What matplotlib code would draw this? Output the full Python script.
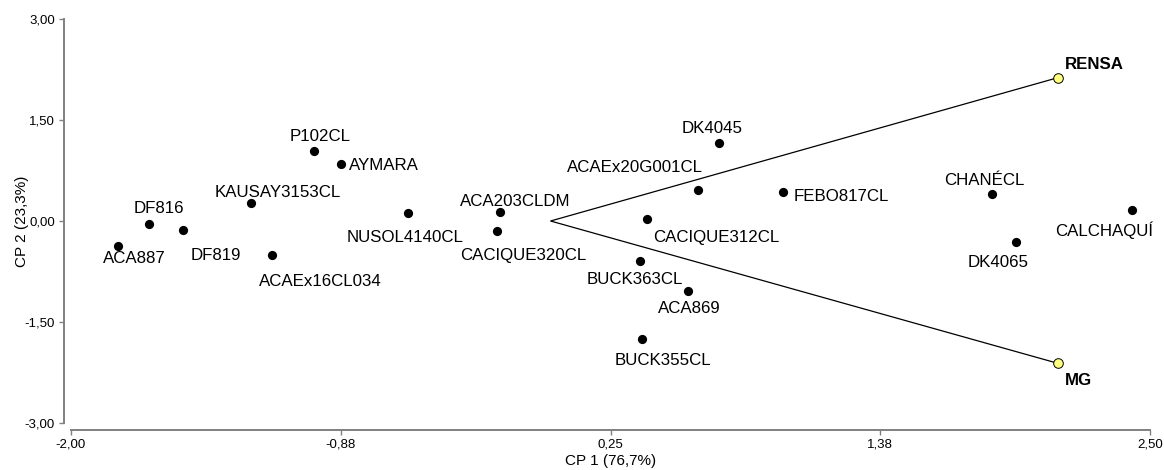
import matplotlib
matplotlib.use("Agg")
import matplotlib.pyplot as plt
from matplotlib.ticker import FixedLocator, FixedFormatter

# ---- data ----
genotypes = ["ACA887", "DF816", "DF819", "KAUSAY3153CL", "ACAEx16CL034", "P102CL",
             "AYMARA", "NUSOL4140CL", "ACA203CLDM", "CACIQUE320CL", "DK4045",
             "ACAEx20G001CL", "CACIQUE312CL", "BUCK363CL", "ACA869", "BUCK355CL",
             "FEBO817CL", "CHANÉCL", "CALCHAQUÍ", "DK4065"]
cp1 = [-1.803, -1.673, -1.534, -1.251, -1.162, -0.987, -0.873, -0.596, -0.210, -0.222,
       0.701, 0.613, 0.403, 0.372, 0.573, 0.382, 0.968, 1.841, 2.426, 1.942]
cp2 = [-0.367, -0.050, -0.140, 0.260, -0.510, 1.045, 0.842, 0.114, 0.129, -0.144,
       1.154, 0.461, 0.030, -0.590, -1.035, -1.749, 0.431, 0.406, 0.168, -0.312]

variables = ["RENSA", "MG"]
var_cp1 = [2.117, 2.117]
var_cp2 = [2.130, -2.115]

x_ticks = [-2.000, -0.875, 0.250, 1.375, 2.500]
x_tick_labels = ["-2,00", "-0,88", "0,25", "1,38", "2,50"]
y_ticks = [-3.00, -1.50, 0.00, 1.50, 3.00]
y_tick_labels = ["-3,00", "-1,50", "0,00", "1,50", "3,00"]
x_label = "CP 1 (76,7%)"
y_label = "CP 2 (23,3%)"

# ---- label placement (pixel offsets: dx right, dy down, to text baseline) ----
lab_off = {
    "ACA887": (16.5, 17, "center"),
    "DF816": (9, -11, "center"),
    "DF819": (33.5, 30, "center"),
    "KAUSAY3153CL": (27.6, -6.5, "center"),
    "ACAEx16CL034": (48.5, 30.5, "center"),
    "P102CL": (6, -10, "center"),
    "AYMARA": (8, 6, "left"),
    "NUSOL4140CL": (-3, 28.5, "center"),
    "ACA203CLDM": (15, -6.5, "center"),
    "CACIQUE320CL": (26, 29.3, "center"),
    "DK4045": (-6.5, -10, "center"),
    "ACAEx20G001CL": (-62.4, -18.2, "center"),
    "CACIQUE312CL": (6, 23.5, "left"),
    "BUCK363CL": (-5, 22.8, "center"),
    "ACA869": (1.3, 22.8, "center"),
    "BUCK355CL": (21, 26.5, "center"),
    "FEBO817CL": (10.6, 9.3, "left"),
    "CHANÉCL": (-8, -8.4, "center"),
    "CALCHAQUÍ": (-28.5, 26.5, "center"),
    "DK4065": (-18.5, 24.8, "center"),
}
var_off = {"RENSA": (6.7, -8.4), "MG": (6.7, 21.9)}

plt.rcParams['font.family'] = ['Liberation Sans', 'DejaVu Sans']

fig = plt.figure(figsize=(11.64, 4.70), dpi=100)
ax = fig.add_axes([71/1164, 47/470, (1150-71)/1164, (423-19)/470])
ax.set_xlim(-2.0, 2.5)
ax.set_ylim(-3.0, 3.0)

# vectors
for vx, vy in zip(var_cp1, var_cp2):
    ax.plot([0, vx], [0, vy], color="black", lw=0.9, zorder=2, solid_capstyle="butt")
ax.scatter(var_cp1, var_cp2, s=48, facecolor="#ffff80", edgecolor="black",
           linewidth=0.7, zorder=4)

# points
ax.scatter(cp1, cp2, s=44, color="black", zorder=3, linewidths=0)

for name, x, y in zip(genotypes, cp1, cp2):
    dx, dy, ha = lab_off[name]
    ax.annotate(name, (x, y), xytext=(dx, -dy), textcoords="offset pixels",
                ha=ha, va="baseline", fontsize=12.2, color="black")
for name, x, y in zip(variables, var_cp1, var_cp2):
    dx, dy = var_off[name]
    ax.annotate(name, (x, y), xytext=(dx, -dy), textcoords="offset pixels",
                ha="left", va="baseline", fontsize=12.2, fontweight="bold", color="black")

# axes styling
for s in ["top", "right"]:
    ax.spines[s].set_visible(False)
ax.spines["left"].set_position(("outward", 5))
ax.spines["bottom"].set_position(("outward", 5))
for s in ["left", "bottom"]:
    ax.spines[s].set_color("#808080")
    ax.spines[s].set_linewidth(1.4)
ax.spines["left"].set_bounds(-3.0, 3.0)
ax.spines["bottom"].set_bounds(-2.0, 2.5)

ax.xaxis.set_major_locator(FixedLocator(x_ticks))
ax.xaxis.set_major_formatter(FixedFormatter(x_tick_labels))
ax.yaxis.set_major_locator(FixedLocator(y_ticks))
ax.yaxis.set_major_formatter(FixedFormatter(y_tick_labels))
ax.tick_params(axis="both", direction="out", length=3.5, width=1.0, color="#808080",
               labelsize=9.5, labelcolor="black", pad=3)

ax.set_xlabel(x_label, fontsize=11, labelpad=2)
ax.set_ylabel(y_label, fontsize=11)
ax.yaxis.set_label_coords(-0.039, 0.5)

fig.savefig("out.png", dpi=100)
